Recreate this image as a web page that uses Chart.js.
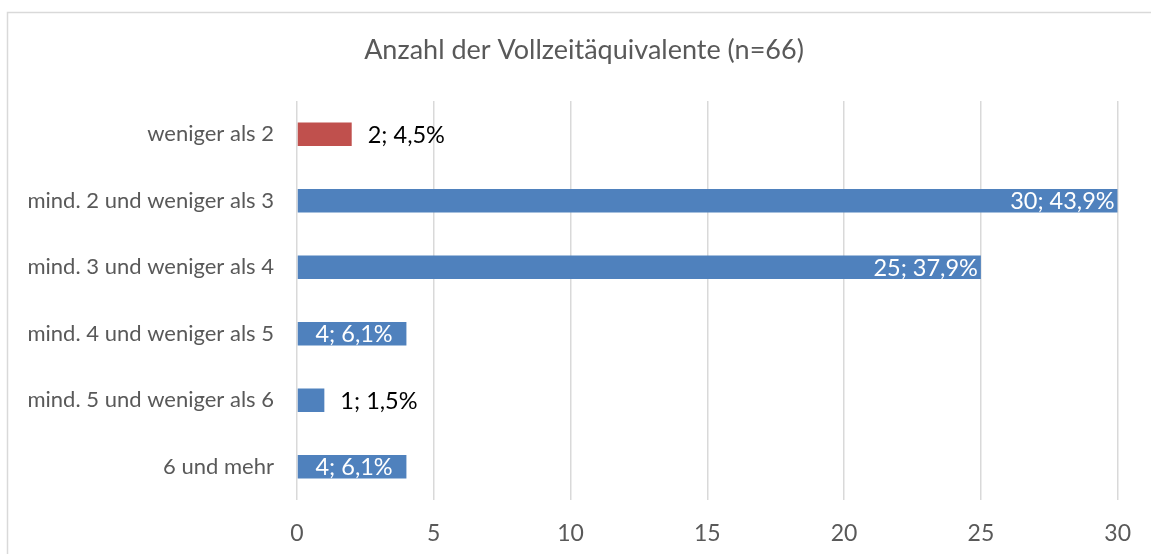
<!DOCTYPE html>
<html>
<head>
<meta charset="utf-8">
<script src="https://cdn.jsdelivr.net/npm/chart.js@4"></script>
<style>
  html, body { margin: 0; padding: 0; background: #fff; }
  #wrap { width: 1151px; height: 554px; }
</style>
</head>
<body>
<div id="wrap"><canvas id="fteChart" width="1151" height="554"></canvas></div>
<script>
const titleText = "Anzahl der Vollzeitäquivalente (n=66)";
const categories = [
  "weniger als 2",
  "mind. 2 und weniger als 3",
  "mind. 3 und weniger als 4",
  "mind. 4 und weniger als 5",
  "mind. 5 und weniger als 6",
  "6 und mehr"
];
const counts = [2, 30, 25, 4, 1, 4];
const percents = [4.5, 43.9, 37.9, 6.1, 1.5, 6.1];
const xTicks = [0, 5, 10, 15, 20, 25, 30];

const FONT = "Lato, 'Open Sans', sans-serif";
const GREY = "#595959";

// red for the first bar, blue for the rest (as in the original)
const barColors = counts.map((v, i) => i === 0 ? "#C0504D" : "#4F81BD");

function labelFor(i) {
  return counts[i] + "; " + percents[i].toFixed(1).replace(".", ",") + "%";
}

// outer frame (only top + left visible) and the title, centred on the frame
const framePlugin = {
  id: "frame",
  beforeDraw(chart) {
    const ctx = chart.ctx;
    ctx.save();
    ctx.strokeStyle = "#d9d9d9";
    ctx.lineWidth = 1.5;
    ctx.strokeRect(7.5, 12.5, 1300, 700);
    ctx.fillStyle = GREY;
    ctx.font = "27px " + FONT;
    ctx.textAlign = "center";
    ctx.textBaseline = "middle";
    ctx.fillText(titleText, 584, 50);
    ctx.restore();
  }
};

// simple data labels (no datalabels plugin available)
const labelPlugin = {
  id: "barLabels",
  afterDatasetsDraw(chart) {
    const ctx = chart.ctx;
    const meta = chart.getDatasetMeta(0);
    ctx.save();
    ctx.font = "23.5px " + FONT;
    ctx.textBaseline = "middle";
    meta.data.forEach((bar, i) => {
      const txt = labelFor(i);
      if (counts[i] > 10) {
        ctx.fillStyle = "#fff";
        ctx.textAlign = "right";
        ctx.fillText(txt, bar.x - 3, bar.y + 1);
      } else if (counts[i] >= 4) {
        ctx.fillStyle = "#fff";
        ctx.textAlign = "center";
        ctx.fillText(txt, (bar.x + bar.base) / 2 + 2, bar.y + 1);
      } else {
        ctx.fillStyle = "#000";
        ctx.textAlign = "left";
        ctx.fillText(txt, bar.x + 16, bar.y + 1);
      }
    });
    ctx.restore();
  }
};

new Chart(document.getElementById("fteChart"), {
  type: "bar",
  data: {
    labels: categories,
    datasets: [{
      data: counts,
      backgroundColor: barColors,
      borderWidth: 0,
      barPercentage: 0.35,
      categoryPercentage: 1
    }]
  },
  options: {
    indexAxis: "y",
    responsive: false,
    animation: false,
    layout: { padding: { left: 0, right: 31, top: 101, bottom: 0 } },
    plugins: {
      legend: { display: false },
      tooltip: { enabled: false },
      title: { display: false }
    },
    scales: {
      x: {
        min: 0,
        max: 30,
        afterBuildTicks(scale) { scale.ticks = xTicks.map(v => ({ value: v })); },
        afterFit(scale) { scale.height = 54; },
        grid: { color: "#d9d9d9", lineWidth: 1.5, drawTicks: false },
        border: { display: false },
        ticks: { color: GREY, font: { family: FONT, size: 23 }, padding: 20 }
      },
      y: {
        afterFit(scale) { scale.width = 297; },
        grid: { display: false },
        border: { display: false },
        ticks: { color: GREY, font: { family: FONT, size: 22 }, padding: 15 }
      }
    }
  },
  plugins: [framePlugin, labelPlugin]
});
</script>
</body>
</html>
